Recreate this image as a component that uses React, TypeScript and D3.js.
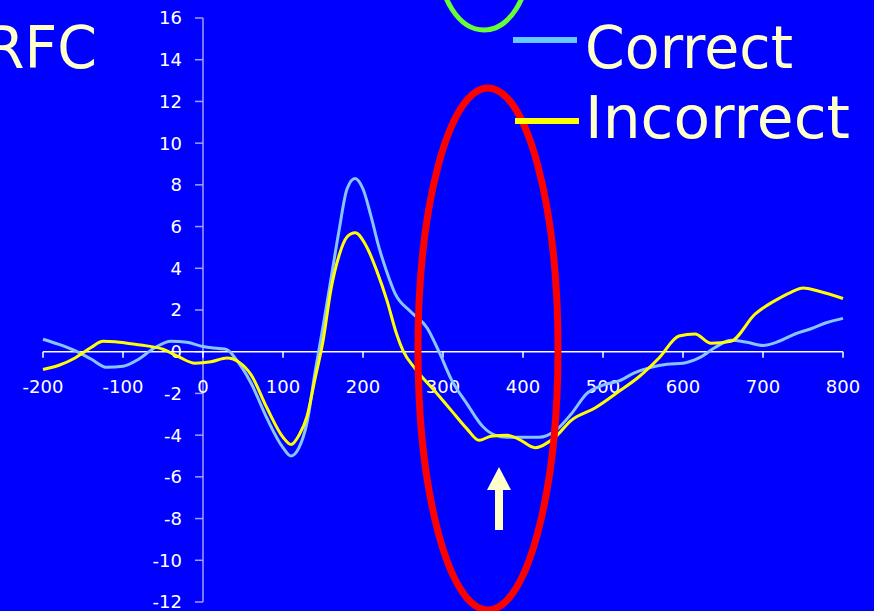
import React from "react";
import * as d3 from "d3";

const correctT = [-200,-180,-160,-140,-120,-100,-80,-60,-40,-20,0,20,30,40,60,80,100,110,120,130,140,150,160,170,180,190,200,210,220,230,240,260,280,295,310,330,350,365,380,400,420,440,460,480,500,520,540,560,580,600,620,640,660,680,700,720,740,760,780,800];
const correctV = [0.6,0.35,0.05,-0.35,-0.75,-0.7,-0.35,0.2,0.5,0.45,0.25,0.15,0.1,-0.3,-1.5,-3.2,-4.6,-5.0,-4.6,-3.4,-1.0,1.2,3.5,5.8,7.8,8.3,7.8,6.5,5.0,3.8,2.8,1.9,1.15,0.0,-1.3,-2.5,-3.6,-4.0,-4.1,-4.1,-4.1,-3.8,-3.0,-2.0,-1.6,-1.4,-1.0,-0.75,-0.6,-0.55,-0.3,0.2,0.55,0.45,0.3,0.5,0.85,1.1,1.4,1.6];

const incorrectT = [-200,-180,-160,-140,-125,-110,-90,-70,-50,-30,-10,10,30,45,60,80,100,110,120,130,140,150,160,170,180,190,205,217,230,242,250,265,290,310,330,345,360,380,395,415,440,460,490,520,545,570,595,615,635,660,690,715,735,750,770,800];
const incorrectV = [-0.85,-0.65,-0.3,0.2,0.5,0.48,0.38,0.28,0.12,-0.25,-0.55,-0.48,-0.3,-0.5,-1.1,-2.7,-4.1,-4.45,-4.0,-3.1,-1.3,0.5,3.0,4.6,5.5,5.7,5.0,3.9,2.45,0.85,0.05,-0.8,-1.9,-2.8,-3.7,-4.25,-4.05,-4.0,-4.2,-4.6,-4.1,-3.3,-2.7,-1.9,-1.2,-0.3,0.75,0.85,0.4,0.5,1.8,2.45,2.85,3.05,2.9,2.55];

const xTicks = [-200,-100,0,100,200,300,400,500,600,700,800];
const yTicks = [16,14,12,10,8,6,4,2,0,-2,-4,-6,-8,-10,-12];
const seriesNames = ["Correct", "Incorrect"];
const title = "RFC";

const W = 874, H = 611;
const BG = "#0000ff";
const BLUE = "#88c4ff";
const YELLOW = "#ffff00";
const CREAM = "#ffffcc";

export default function App() {
  const x = d3.scaleLinear().domain([-200, 800]).range([43, 843]);
  const y = d3.scaleLinear().domain([-12, 16]).range([602, 18]);
  const line = d3.line<[number, number]>().x(d => x(d[0])).y(d => y(d[1])).curveMonotoneX ? null : null;
  const mk = (t: number[], v: number[]) =>
    d3.line<number>().x((_, i) => x(t[i])).y((d) => y(d)).curve(d3.curveMonotoneX)(v) || "";
  const tickFont = "'DejaVu Sans', Verdana, sans-serif";
  const bigFont = "'Comic Sans MS', 'DejaVu Sans', sans-serif";
  const x0 = x(0);
  const yZero = y(0);
  return (
    <div style={{ position: "fixed", left: 0, top: 0 }}>
      <svg width={W} height={H} style={{ display: "block" }}>
        <rect width={W} height={H} fill={BG} />
        {/* y axis */}
        <line x1={x0} x2={x0} y1={y(16)} y2={y(-12)} stroke="#a0a0ff" strokeWidth={1.5} />
        {yTicks.map(t => (
          <g key={"y" + t}>
            <line x1={x0 - 8} x2={x0} y1={y(t)} y2={y(t)} stroke="#a0a0ff" strokeWidth={1.5} />
            <text x={x0 - 21} y={y(t)} dy="0.36em" textAnchor="end" fill="#ffffff" fontFamily={tickFont} fontSize={18}>{t}</text>
          </g>
        ))}
        {/* x axis */}
        <line x1={x(-200)} x2={x(800)} y1={yZero} y2={yZero} stroke="#ffffff" strokeWidth={1.5} />
        {xTicks.map(t => (
          <g key={"x" + t}>
            <line x1={x(t)} x2={x(t)} y1={yZero} y2={yZero + 6} stroke="#ffffff" strokeWidth={1.5} />
            <text x={x(t)} y={yZero + 35} dy="0.36em" textAnchor="middle" fill="#ffffff" fontFamily={tickFont} fontSize={18}>{t}</text>
          </g>
        ))}
        {/* series */}
        <path d={mk(correctT, correctV)} fill="none" stroke={BLUE} strokeWidth={3} strokeLinejoin="round" />
        <path d={mk(incorrectT, incorrectV)} fill="none" stroke={YELLOW} strokeWidth={3} strokeLinejoin="round" />
        {/* annotations */}
        <ellipse cx={484} cy={-40} rx={45} ry={70} fill="none" stroke="#66ff33" strokeWidth={5} />
        <ellipse cx={488} cy={349} rx={70} ry={261} fill="none" stroke="#ff0000" strokeWidth={7} />
        <rect x={495} y={489} width={8} height={41} fill={CREAM} />
        <polygon points="487,490 511,490 499,467" fill={CREAM} />
        {/* title */}
        <text x={97} y={68} textAnchor="end" fill={CREAM} fontFamily={bigFont} fontSize={58} textLength={112} lengthAdjust="spacingAndGlyphs">{title}</text>
        {/* legend */}
        <line x1={513} x2={577} y1={40} y2={40} stroke="#66c8ff" strokeWidth={6} />
        <text x={585} y={68} fill={CREAM} fontFamily={bigFont} fontSize={58} textLength={208} lengthAdjust="spacingAndGlyphs">{seriesNames[0]}</text>
        <line x1={515} x2={579} y1={121} y2={121} stroke={YELLOW} strokeWidth={6} />
        <text x={585} y={138} fill={CREAM} fontFamily={bigFont} fontSize={58} textLength={265} lengthAdjust="spacingAndGlyphs">{seriesNames[1]}</text>
      </svg>
    </div>
  );
}
